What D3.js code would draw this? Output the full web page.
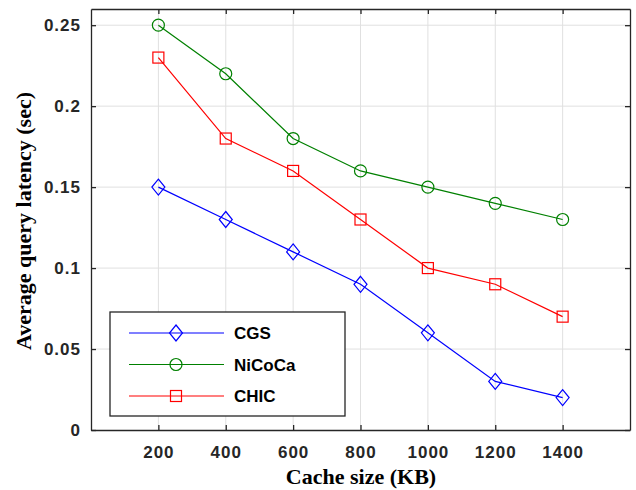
<!DOCTYPE html>
<meta charset="utf-8">
<style>
  body { margin: 0; background: #fff; }
  .tick text { font-family: "Liberation Sans", Arial, sans-serif; font-weight: bold; font-size: 17px; fill: #262626; }
  .grid line { stroke: #e0e0e0; stroke-width: 1; }
  .title { font-family: "Liberation Serif", "Times New Roman", serif; font-weight: bold; font-size: 22px; fill: #000; }
  .legend text { font-family: "Liberation Sans", Arial, sans-serif; font-weight: bold; font-size: 17px; fill: #000; }
</style>
<svg width="636" height="490"></svg>
<script src="https://d3js.org/d3.v7.min.js"></script>
<script>
    var cacheSizes = [200, 400, 600, 800, 1000, 1200, 1400];
    var cgs    = [0.15, 0.13, 0.11, 0.09, 0.06, 0.03, 0.02];
    var nicoca = [0.25, 0.22, 0.18, 0.16, 0.15, 0.14, 0.13];
    var chic   = [0.23, 0.18, 0.16, 0.13, 0.10, 0.09, 0.07];
    var yTicks = [0, 0.05, 0.1, 0.15, 0.2, 0.25];
    var yTickLabels = ["0", "0.05", "0.1", "0.15", "0.2", "0.25"];

    var series = [
        {name: "CGS", values: cgs, color: "#0000ff", marker: "diamond"},
        {name: "NiCoCa", values: nicoca, color: "#008000", marker: "circle"},
        {name: "CHIC", values: chic, color: "#ff0000", marker: "square"}
    ];

    var svg = d3.select("svg"),
        margin = {left: 91, top: 9, right: 6, bottom: 60},
        width = 636 - margin.left - margin.right,
        height = 490 - margin.top - margin.bottom;

    var x = d3.scaleLinear().domain([0, 1600]).range([0, width]);
    var y = d3.scaleLinear().domain([0, 0.26]).range([height, 0]);

    var g = svg.append("g").attr("transform", "translate(" + margin.left + "," + margin.top + ")");

    // grid
    g.append("g").attr("class", "grid")
        .selectAll("line.v").data(cacheSizes).enter().append("line")
        .attr("x1", d => x(d)).attr("x2", d => x(d))
        .attr("y1", 0).attr("y2", height);
    g.append("g").attr("class", "grid")
        .selectAll("line.h").data(yTicks.slice(1)).enter().append("line")
        .attr("x1", 0).attr("x2", width)
        .attr("y1", d => y(d)).attr("y2", d => y(d));

    // axes
    g.append("g").attr("transform", "translate(0," + height + ")")
        .call(d3.axisBottom(x).tickValues(cacheSizes).tickFormat(d3.format("d"))
            .tickSizeInner(-5).tickSizeOuter(0).tickPadding(16));
    g.append("g")
        .call(d3.axisLeft(y).tickValues(yTicks).tickFormat((d, i) => yTickLabels[i])
            .tickSizeInner(-5).tickSizeOuter(0).tickPadding(10));
    g.append("g")
        .call(d3.axisTop(x).tickValues(cacheSizes).tickSizeInner(-5).tickSizeOuter(0).tickFormat(""));
    g.append("g").attr("transform", "translate(" + width + ",0)")
        .call(d3.axisRight(y).tickValues(yTicks).tickSizeInner(-5).tickSizeOuter(0).tickFormat(""));
    g.selectAll(".domain, .tick line").attr("stroke", "#262626").attr("stroke-width", 1.3);
    g.selectAll(".tick text").attr("letter-spacing", "1px");

    function drawMarker(sel, type, color) {
        if (type === "circle") {
            sel.append("circle").attr("r", 6).attr("fill", "none").attr("stroke", color).attr("stroke-width", 1.2);
        } else if (type === "square") {
            sel.append("rect").attr("x", -5.5).attr("y", -5.5).attr("width", 11).attr("height", 11)
                .attr("fill", "none").attr("stroke", color).attr("stroke-width", 1.2);
        } else {
            sel.append("path").attr("d", "M0,-8L6.5,0L0,8L-6.5,0Z")
                .attr("fill", "none").attr("stroke", color).attr("stroke-width", 1.2);
        }
    }

    var line = d3.line().x((d, i) => x(cacheSizes[i])).y(d => y(d));

    series.forEach(function (s) {
        g.append("path").datum(s.values).attr("d", line)
            .attr("fill", "none").attr("stroke", s.color).attr("stroke-width", 1.2);
        g.selectAll(null).data(s.values).enter().append("g")
            .attr("transform", (d, i) => "translate(" + x(cacheSizes[i]) + "," + y(d) + ")")
            .each(function () { drawMarker(d3.select(this), s.marker, s.color); });
    });

    // legend
    var legend = svg.append("g").attr("class", "legend").attr("transform", "translate(110,312)");
    legend.append("rect").attr("width", 235).attr("height", 104)
        .attr("fill", "#fff").attr("stroke", "#262626").attr("stroke-width", 1.3);
    series.forEach(function (s, i) {
        var row = legend.append("g").attr("transform", "translate(0," + (21 + i * 31.5) + ")");
        row.append("line").attr("x1", 19).attr("x2", 114).attr("stroke", s.color).attr("stroke-width", 1.2);
        drawMarker(row.append("g").attr("transform", "translate(66,0)"), s.marker, s.color);
        row.append("text").attr("x", 124).attr("y", 6).text(s.name);
    });

    // titles
    svg.append("text").attr("class", "title").attr("text-anchor", "middle")
        .attr("x", 361).attr("y", 484)
        .text("Cache size (KB)");
    svg.append("text").attr("class", "title").attr("text-anchor", "middle")
        .attr("transform", "translate(31,221) rotate(-90)")
        .text("Average query latency (sec)");
</script>
